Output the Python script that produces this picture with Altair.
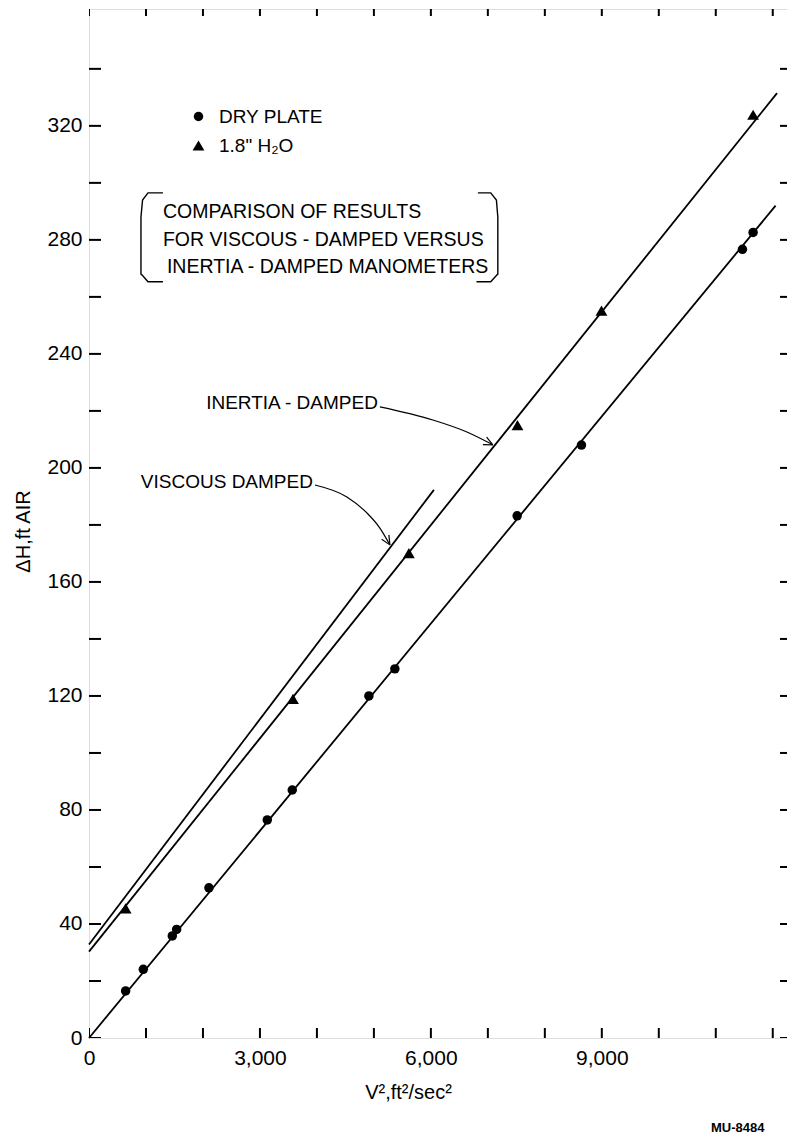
import math
import altair as alt
import pandas as pd

FONT = "Liberation Sans"

# Measured points: V^2 (ft^2/sec^2) against pressure drop (ft of air)
dry_x = [643, 953, 1462, 1538, 2105, 3129, 3567, 4912, 5368, 7514, 8643, 11468, 11655]
dry_y = [16.5, 24.1, 35.8, 38.1, 52.7, 76.5, 87.0, 120.0, 129.5, 183.2, 208.0, 276.7, 282.6]
wet_x = [643, 3580, 5614, 7520, 8994, 11655]
wet_y = [45.5, 119.0, 170.1, 215.0, 255.2, 323.9]

series_names = ["DRY PLATE", '1.8" H\u2082O']

# Straight-line fits (end points)
dry_fit_x = [0, 12050]
dry_fit_y = [0.0, 292.0]
inertia_fit_x = [0, 12075]
inertia_fit_y = [30.3, 331.5]
viscous_fit_x = [0, 6053]
viscous_fit_y = [32.8, 192.3]

# Callout curves (data units), ending in an arrow tip
viscous_call_x = [3965, 4526, 4877, 5105, 5281]
viscous_call_y = [194.0, 189.8, 184.2, 178.9, 173.0]
inertia_call_x = [5105, 6035, 6632, 7088]
inertia_call_y = [221.4, 216.8, 212.6, 208.1]

x_label_values = [0, 3000, 6000, 9000]
y_label_values = list(range(0, 321, 40))
x_tick_values = list(range(0, 12001, 1000))
y_tick_values = list(range(0, 360, 20))

X_MAX, Y_MAX = 12250, 361
W, H = 698, 1029
PX_X = W / X_MAX
PX_Y = H / Y_MAX

xs = alt.Scale(domain=[0, X_MAX], nice=False, zero=False)
ys = alt.Scale(domain=[0, Y_MAX], nice=False, zero=False)

x_axis = alt.Axis(
    values=x_label_values, format=",d", ticks=False, domain=False, grid=False,
    labelFlush=False,
    labelFont=FONT, labelFontSize=21, labelColor="black", labelPadding=9,
    title="V\u00b2,ft\u00b2/sec\u00b2", titleFont=FONT, titleFontSize=20,
    titleFontWeight="normal", titleColor="black",
    titleX=319, titleY=54, titleBaseline="middle", titleAlign="center")
y_axis = alt.Axis(
    values=y_label_values, ticks=False, domain=False, grid=False,
    labelFont=FONT, labelFontSize=21, labelColor="black", labelPadding=7,
    title="\u0394H,ft AIR", titleFont=FONT, titleFontSize=20,
    titleFontWeight="normal", titleColor="black",
    titleX=-66, titleY=522, titleBaseline="middle", titleAlign="center",
    titleAngle=-90)


def X(field="v2"):
    return alt.X(f"{field}:Q", scale=xs, axis=x_axis)


def Y(field="dh"):
    return alt.Y(f"{field}:Q", scale=ys, axis=y_axis)


# ---- data points with legend ----
points = pd.DataFrame({
    "v2": dry_x + wet_x,
    "dh": dry_y + wet_y,
    "series": [series_names[0]] * len(dry_x) + [series_names[1]] * len(wet_x),
})

series_legend = alt.Legend(title=None, orient="none", legendX=100, legendY=98,
                           labelFont=FONT, labelFontSize=19, labelColor="black",
                           symbolFillColor="black", symbolStrokeColor="black",
                           rowPadding=9, labelOffset=11, padding=0)

pts = alt.Chart(points).mark_point(filled=True, color="black", opacity=1).encode(
    x=X(), y=Y(),
    shape=alt.Shape("series:N",
                    scale=alt.Scale(domain=series_names, range=["circle", "triangle-up"]),
                    legend=series_legend),
    size=alt.Size("series:N",
                  scale=alt.Scale(domain=series_names, range=[90, 140]),
                  legend=series_legend),
)

# ---- fitted lines ----
fits = pd.DataFrame({
    "v2": dry_fit_x + inertia_fit_x + viscous_fit_x,
    "dh": dry_fit_y + inertia_fit_y + viscous_fit_y,
    "line": ["dry"] * 2 + ["inertia"] * 2 + ["viscous"] * 2,
})
fit_lines = alt.Chart(fits).mark_line(color="black", strokeWidth=1.8).encode(
    x=X(), y=Y(), detail="line:N")

# ---- callout curves and arrowheads ----
calls = pd.DataFrame({
    "v2": viscous_call_x + inertia_call_x,
    "dh": viscous_call_y + inertia_call_y,
    "line": ["v"] * len(viscous_call_x) + ["i"] * len(inertia_call_x),
})
call_lines = alt.Chart(calls).mark_line(color="black", strokeWidth=1.2,
                                        interpolate="monotone").encode(
    x=X(), y=Y(), detail="line:N")


def barbs(xs_, ys_, length=10, spread=25):
    """Two short strokes at the last point, pointing back along the curve."""
    tx, ty = xs_[-1] * PX_X, -ys_[-1] * PX_Y
    px, py = xs_[-2] * PX_X, -ys_[-2] * PX_Y
    d = math.hypot(tx - px, ty - py)
    bx, by = (px - tx) / d, (py - ty) / d
    out = []
    for sgn in (1, -1):
        a = math.radians(spread) * sgn
        rx = bx * math.cos(a) - by * math.sin(a)
        ry = bx * math.sin(a) + by * math.cos(a)
        ex, ey = tx + rx * length, ty + ry * length
        out.append(((xs_[-1], ys_[-1]), (ex / PX_X, -ey / PX_Y)))
    return out


barb_rows = []
k = 0
for cx, cy in ((viscous_call_x, viscous_call_y), (inertia_call_x, inertia_call_y)):
    for (a, b) in barbs(cx, cy):
        barb_rows.append({"v2": a[0], "dh": a[1], "seg": k})
        barb_rows.append({"v2": b[0], "dh": b[1], "seg": k})
        k += 1
arrow_heads = alt.Chart(pd.DataFrame(barb_rows)).mark_line(
    color="black", strokeWidth=1.2).encode(x=X(), y=Y(), detail="seg:N")

# ---- inward tick marks on all four sides ----
left_ticks = pd.DataFrame({"v2": [0] * len(y_tick_values), "dh": y_tick_values})
right_ticks = pd.DataFrame({"v2": [X_MAX] * len(y_tick_values), "dh": y_tick_values})
bottom_ticks = pd.DataFrame({"v2": x_tick_values, "dh": [0] * len(x_tick_values)})
top_ticks = pd.DataFrame({"v2": x_tick_values, "dh": [Y_MAX] * len(x_tick_values)})


def tick_layer(df, orient, size):
    return alt.Chart(df).mark_tick(orient=orient, size=size, thickness=2,
                                   color="black", clip=True, opacity=1).encode(
        x=X(), y=Y())


ticks = [
    tick_layer(left_ticks, "horizontal", 24),
    tick_layer(right_ticks, "horizontal", 14),
    tick_layer(bottom_ticks, "vertical", 20),
    tick_layer(top_ticks, "vertical", 14),
]

# ---- bracketed caption box ----
box_left = [(1298, 296.5), (1035, 296.5), (940, 294), (912, 288), (912, 268), (940, 267.5),
            (1035, 265.3), (1298, 265.3)]
box_right = [(6825, 296.5), (7050, 296.5), (7150, 294), (7175, 288), (7175, 268),
             (7150, 267.5), (7050, 265.3), (6800, 265.3)]
box_rows = []
for name, pts_ in (("l", box_left), ("r", box_right)):
    for i, (bx_, by_) in enumerate(pts_):
        box_rows.append({"v2": bx_, "dh": by_, "side": name, "ord": i})
bracket = alt.Chart(pd.DataFrame(box_rows)).mark_line(
    color="black", strokeWidth=1.4, interpolate="linear").encode(
    x=X(), y=Y(), detail="side:N", order="ord:Q")

caption_lines = ["COMPARISON  OF  RESULTS",
                 "FOR  VISCOUS - DAMPED  VERSUS",
                 "INERTIA - DAMPED  MANOMETERS"]
caption = pd.DataFrame({"v2": [1298, 1298, 1368], "dh": [289.8, 280.0, 270.5],
                        "txt": caption_lines})
caption_text = alt.Chart(caption).mark_text(
    align="left", baseline="middle", font=FONT, fontSize=19.5, color="black").encode(
    x=X(), y=Y(), text="txt:N")

# ---- callout labels ----
callouts = pd.DataFrame({"v2": [5070, 3930], "dh": [222.6, 195.1],
                         "txt": ["INERTIA  -  DAMPED", "VISCOUS  DAMPED"]})
callout_text = alt.Chart(callouts).mark_text(
    align="right", baseline="middle", font=FONT, fontSize=19, color="black").encode(
    x=X(), y=Y(), text="txt:N")

# ---- drawing number below the plot ----
tag = pd.DataFrame({"v2": [11386], "dh": [-31.6], "txt": ["MU-8484"]})
tag_text = alt.Chart(tag).mark_text(
    align="center", baseline="middle", font=FONT, fontSize=13, fontWeight="bold",
    color="black").encode(x=X(), y=Y(), text="txt:N")

chart = alt.layer(
    fit_lines, call_lines, arrow_heads, *ticks, bracket, caption_text, callout_text,
    tag_text, pts,
).properties(
    width=W, height=H,
    autosize=alt.AutoSizeParams(type="none"),
    padding={"left": 89, "top": 9, "right": 0, "bottom": 103},
).configure_view(
    stroke="black", strokeWidth=2,
).configure(background="white")

chart.save("out.html", embed_options={"renderer": "svg", "actions": False})
